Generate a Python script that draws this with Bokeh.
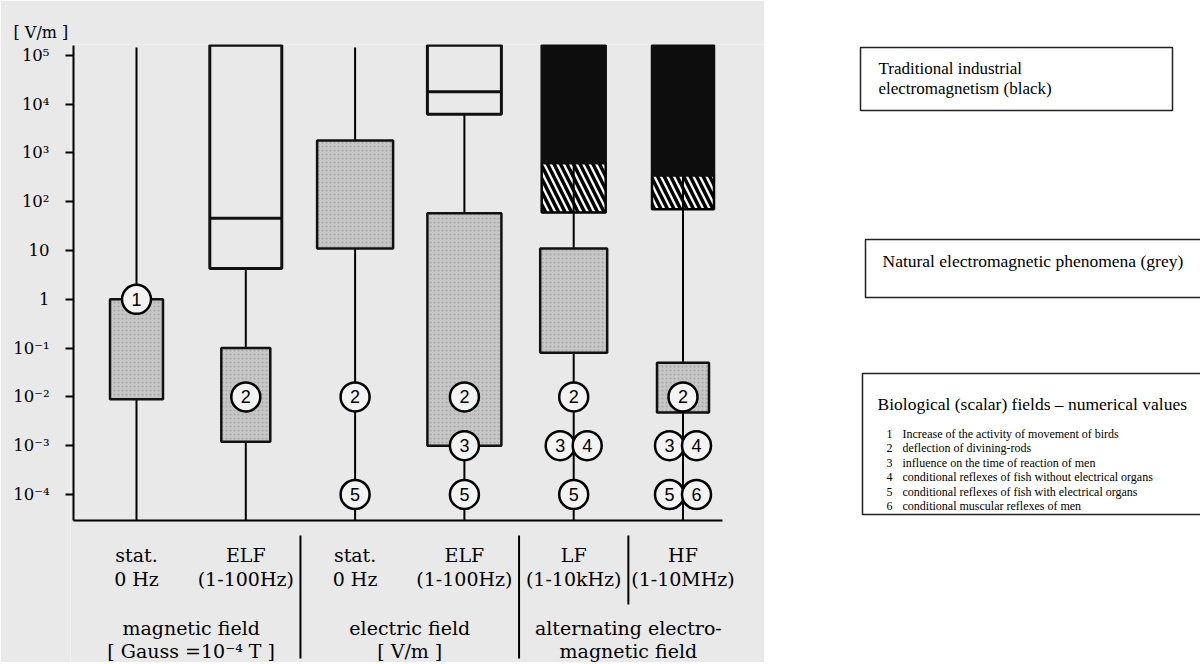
from collections import defaultdict
from bokeh.plotting import figure
from bokeh.models import Range1d, FixedTicker, CustomJSTickFormatter, ColumnDataSource
from bokeh.layouts import row
from bokeh.embed import file_html
from bokeh.resources import INLINE
from bokeh.core.properties import value

# ---------------- data ----------------
COLUMNS = [1, 2, 3, 4, 5, 6]
COL_LINE1 = ["stat.", "ELF", "stat.", "ELF", "LF", "HF"]
COL_LINE2 = ["0 Hz", "(1-100Hz)", "0 Hz", "(1-100Hz)", "(1-10kHz)", "(1-10MHz)"]
GROUP_COLS = [(1, 2), (3, 4), (5, 6)]
GROUP_LINE1 = ["magnetic field", "electric field", "alternating electro-"]
GROUP_LINE2 = ["[ Gauss =10\u207b\u2074 T ]", "[ V/m ]", "magnetic field"]
Y_UNIT = "[ V/m ]"

Y_TICK_EXP = [-4, -3, -2, -1, 0, 1, 2, 3, 4, 5]
Y_TICK_LABELS = ["10\u207b\u2074", "10\u207b\u00b3", "10\u207b\u00b2", "10\u207b\u00b9",
                 "1", "10", "10\u00b2", "10\u00b3", "10\u2074", "10\u2075"]

# whisker (range line) per column: top value, the line runs down to the axis
WHISKER_COL = [1, 2, 3, 4, 5, 6]
WHISKER_TOP = [1.45e5, 4.3, 1.45e5, 6200, 620, 350]

# boxes: column, bottom, top, kind
BOX_COL = [1, 2, 2, 3, 4, 4, 5, 5, 5, 6, 6, 6]
BOX_BOTTOM = [0.009, 4.3, 0.0012, 11, 6200, 0.001, 620, 60, 0.08, 350, 70, 0.0048]
BOX_TOP = [1.0, 1.6e5, 0.1, 1800, 1.6e5, 58, 1.6e5, 620, 11, 1.6e5, 350, 0.05]
BOX_KIND = ["grey", "white", "grey", "grey", "white", "grey",
            "black", "hatched", "grey", "black", "hatched", "grey"]

# inner dividing lines of the open boxes
DIVIDER_COL = [2, 4]
DIVIDER_VALUE = [46, 18000]

# biological thresholds (numbered circles)
MARK_COL = [1, 2, 3, 3, 4, 4, 4, 5, 5, 5, 5, 6, 6, 6, 6, 6]
MARK_VALUE = [1, 1e-2, 1e-2, 1e-4, 1e-2, 1e-3, 1e-4, 1e-2, 1e-3, 1e-3, 1e-4,
              1e-2, 1e-3, 1e-3, 1e-4, 1e-4]
MARK_ID = ["1", "2", "2", "5", "2", "3", "5", "2", "3", "4", "5", "2", "3", "4", "5", "6"]

LEGEND_BLACK = ["Traditional industrial", "electromagnetism (black)"]
LEGEND_GREY = "Natural electromagnetic phenomena (grey)"
LEGEND_BIO_TITLE = "Biological (scalar) fields \u2013 numerical values"
LEGEND_BIO_NUM = ["1", "2", "3", "4", "5", "6"]
LEGEND_BIO_TEXT = ["Increase of the activity of movement of birds",
                   "deflection of divining-rods",
                   "influence on the time of reaction of men",
                   "conditional reflexes of fish without electrical organs",
                   "conditional reflexes of fish with electrical organs",
                   "conditional muscular reflexes of men"]

# ---------------- styles / layout (pixel geometry) ----------------
PAGE_BG = "#e9e9e9"
GREY = "#c6c6c6"
INK = "#111111"
SERIF = "DejaVu Serif"
BOX_WIDTH_PX = [53, 72, 49, 76, 74, 74, 64, 64, 67, 62, 62, 52]
W, H = 1200, 662
CHART_W = 764
FRAME_LEFT, FRAME_TOP = 70, 44
AXIS_X, AXIS_Y, AXIS_RIGHT, AXIS_TOP = 73, 520, 722, 45
FIRST_COL_PX, UNIT_PX = 136, 109.3
DECADE5_PX, PPD = 54.8, 48.8


def data_x(px):
    return 1 + (px - FIRST_COL_PX) / UNIT_PX


def data_y(py):
    return 10 ** (5 - (py - DECADE5_PX) / PPD)


Y_AXIS_BOTTOM = data_y(AXIS_Y)

p = figure(width=CHART_W, height=H, y_axis_type="log",
           x_range=Range1d(data_x(FRAME_LEFT), data_x(CHART_W)),
           y_range=Range1d(data_y(H), data_y(FRAME_TOP)),
           x_axis_location=None, output_backend="svg", toolbar_location=None,
           min_border_left=FRAME_LEFT, min_border_right=0,
           min_border_top=FRAME_TOP, min_border_bottom=0,
           background_fill_color=PAGE_BG, border_fill_color=PAGE_BG)
p.outline_line_color = None
p.grid.visible = False

p.title.text = Y_UNIT
p.title.align = "left"
p.title.offset = 13 - FRAME_LEFT
p.title.text_font = SERIF
p.title.text_font_size = "16px"
p.title.text_font_style = "normal"
p.title.text_color = "black"
p.title.standoff = 6

p.yaxis.ticker = FixedTicker(ticks=[10.0 ** e for e in Y_TICK_EXP], minor_ticks=[])
p.yaxis.formatter = CustomJSTickFormatter(
    args=dict(exps=Y_TICK_EXP, labels=Y_TICK_LABELS),
    code="const i = exps.indexOf(Math.round(Math.log10(tick))); return i < 0 ? '' : labels[i];")
p.yaxis.axis_line_color = None
p.yaxis.major_tick_in = AXIS_X - FRAME_LEFT
p.yaxis.major_tick_out = 5
p.yaxis.major_tick_line_width = 2
p.yaxis.minor_tick_line_color = None
p.yaxis.major_label_standoff = 16
p.yaxis.major_label_text_font = SERIF
p.yaxis.major_label_text_font_size = "16.5px"
p.yaxis.major_label_text_color = "black"

# axis lines
ax0, ax1 = data_x(AXIS_X), data_x(AXIS_RIGHT)
p.segment(x0=[ax0, ax0], y0=[Y_AXIS_BOTTOM, Y_AXIS_BOTTOM],
          x1=[ax0, ax1], y1=[data_y(AXIS_TOP), Y_AXIS_BOTTOM],
          line_color="black", line_width=2)


def box_source(kind):
    idx = [i for i, k in enumerate(BOX_KIND) if k == kind]
    return ColumnDataSource(dict(
        left=[BOX_COL[i] - BOX_WIDTH_PX[i] / UNIT_PX / 2 for i in idx],
        right=[BOX_COL[i] + BOX_WIDTH_PX[i] / UNIT_PX / 2 for i in idx],
        bottom=[BOX_BOTTOM[i] for i in idx],
        top=[BOX_TOP[i] for i in idx]))


# hatched transition zone (under the whisker)
p.quad(source=box_source("hatched"), fill_color="white",
       hatch_pattern="left_diagonal_line", hatch_color="black",
       hatch_weight=3.5, hatch_scale=13, line_color="black", line_width=2.5)

# whiskers
p.segment(x0=WHISKER_COL, y0=[Y_AXIS_BOTTOM] * len(WHISKER_COL), x1=WHISKER_COL,
          y1=WHISKER_TOP, line_color="black", line_width=2)

p.quad(source=box_source("grey"), fill_color=GREY, hatch_pattern="dot",
       hatch_color="#a9a9a9", hatch_scale=4, hatch_weight=1.2,
       line_color=INK, line_width=2.5)
p.quad(source=box_source("white"), fill_color=None, line_color=INK, line_width=3)
p.quad(source=box_source("black"), fill_color="#0d0d0d", line_color="#0d0d0d", line_width=2.5)

div_w = {c: BOX_WIDTH_PX[i] for i, c in enumerate(BOX_COL) if BOX_KIND[i] == "white"}
p.segment(x0=[c - div_w[c] / UNIT_PX / 2 for c in DIVIDER_COL], y0=DIVIDER_VALUE,
          x1=[c + div_w[c] / UNIT_PX / 2 for c in DIVIDER_COL], y1=DIVIDER_VALUE,
          line_color=INK, line_width=3)

# numbered circles, side by side when they share a level
groups = defaultdict(list)
for i, key in enumerate(zip(MARK_COL, MARK_VALUE)):
    groups[key].append(i)
mark_x = [0.0] * len(MARK_COL)
for key, idxs in groups.items():
    for j, i in enumerate(idxs):
        mark_x[i] = MARK_COL[i] + (j - (len(idxs) - 1) / 2) * 27 / UNIT_PX
msrc = ColumnDataSource(dict(x=mark_x, y=MARK_VALUE, t=MARK_ID))
p.scatter(x="x", y="y", source=msrc, marker="circle", size=29,
          fill_color="#f3f3f3", line_color="black", line_width=2.5)
p.text(x="x", y="y", text="t", source=msrc, text_font=value("Liberation Sans"),
       text_font_size="18px", text_align="center", text_baseline="middle",
       text_color="black")

# category labels below the axis
lab_kw = dict(text_font=value(SERIF), text_font_size="19px", text_align="center",
              text_baseline="middle", text_color="black")
p.text(x=COLUMNS, y=[data_y(554)] * len(COLUMNS), text=COL_LINE1, **lab_kw)
p.text(x=COLUMNS, y=[data_y(578)] * len(COLUMNS), text=COL_LINE2, **lab_kw)
gx = [(a + b) / 2 for a, b in GROUP_COLS]
p.text(x=gx, y=[data_y(627)] * len(gx), text=GROUP_LINE1, **lab_kw)
p.text(x=gx, y=[data_y(650)] * len(gx), text=GROUP_LINE2, **lab_kw)

# group separators (between groups, and between LF / HF)
sep_x = [(b + c) / 2 for (a, b), (c, d) in zip(GROUP_COLS[:-1], GROUP_COLS[1:])]
sep_bottom = [658] * len(sep_x)
sep_x.append(sum(GROUP_COLS[-1]) / 2)
sep_bottom.append(604)
p.segment(x0=sep_x, y0=[data_y(535)] * len(sep_x), x1=sep_x,
          y1=[data_y(b) for b in sep_bottom], line_color="black", line_width=2)

# ---------------- legend panel ----------------
lg = figure(width=W - CHART_W, height=H, x_range=Range1d(CHART_W, W),
            y_range=Range1d(H, FRAME_TOP), output_backend="svg", toolbar_location=None,
            min_border_left=0, min_border_right=0, min_border_top=FRAME_TOP,
            min_border_bottom=0, x_axis_location=None, y_axis_location=None,
            background_fill_color="white", border_fill_color="white")
lg.outline_line_color = None
lg.grid.visible = False

lg.quad(left=[860, 865, 862], right=[1172, 1240, 1240], top=[47, 239, 373],
        bottom=[110, 297, 514], fill_color="white", line_color="#222222", line_width=1.5)
TIMES = value("Liberation Serif")
tk = dict(text_font=TIMES, text_baseline="middle", text_color="black")
lg.text(x=[878, 878], y=[68, 88], text=LEGEND_BLACK, text_font_size="17px", **tk)
lg.text(x=[882], y=[260], text=[LEGEND_GREY], text_font_size="17.5px", **tk)
lg.text(x=[877], y=[403], text=[LEGEND_BIO_TITLE], text_font_size="17.5px", **tk)
item_y = [433 + 14.5 * i for i in range(len(LEGEND_BIO_TEXT))]
lg.text(x=[892] * len(LEGEND_BIO_NUM), y=item_y, text=LEGEND_BIO_NUM,
        text_font_size="12px", text_align="right", **tk)
lg.text(x=[902] * len(LEGEND_BIO_TEXT), y=item_y, text=LEGEND_BIO_TEXT,
        text_font_size="12px", **tk)

layout = row(p, lg)
open("out.html", "w").write(file_html(layout, INLINE))
